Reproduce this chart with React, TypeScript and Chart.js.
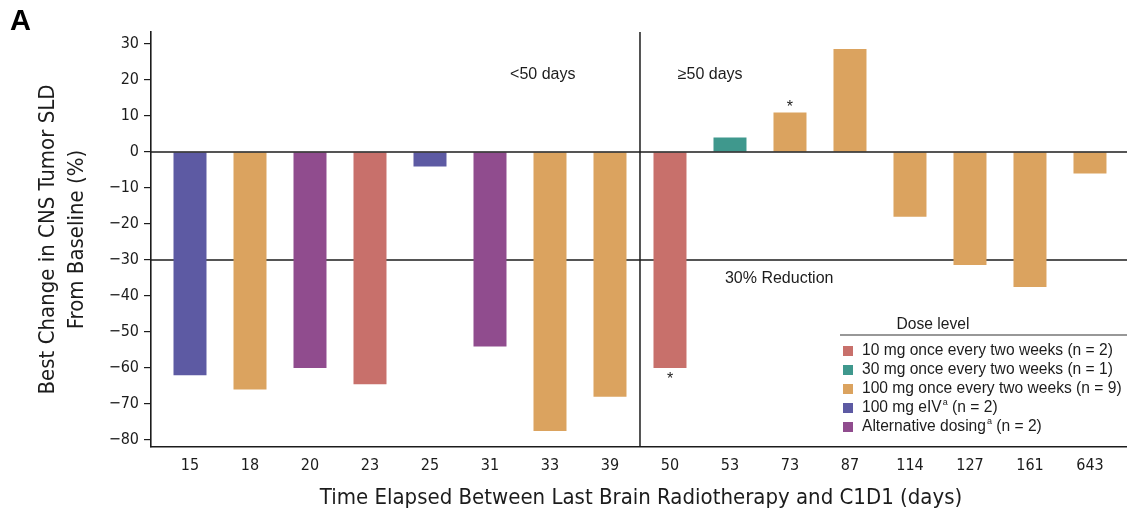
import React, { useEffect, useRef } from "react";
import { Chart, registerables } from "chart.js";

Chart.register(...registerables);

// ---- Data ----
const categories = ["15", "18", "20", "23", "25", "31", "33", "39", "50", "53", "73", "87", "114", "127", "161", "643"];
const changes = [-62, -66, -60, -64.5, -4, -54, -77.5, -68, -60, 4, 11, 28.6, -18, -31.4, -37.5, -6];
const doseGroup = [3, 2, 4, 0, 3, 4, 2, 2, 0, 1, 2, 2, 2, 2, 2, 2];
const doseNames = [
  "10 mg once every two weeks",
  "30 mg once every two weeks",
  "100 mg once every two weeks",
  "100 mg eIV",
  "Alternative dosing",
];
const doseSup = ["", "", "", "a", "a"];
const doseN = [2, 1, 9, 2, 2];
const doseColors = ["#c8706b", "#3f988d", "#dba35f", "#5d5aa3", "#904c8e"];
const yTicks = [30, 20, 10, 0, -10, -20, -30, -40, -50, -60, -70, -80];
const asteriskCats = ["73", "50"];
const thresholdValue = -30;
const groupSplitLabels = ["<50 days", "\u226550 days"];
const thresholdLabel = "30% Reduction";
const yTitleLines = ["Best Change in CNS Tumor SLD", "From Baseline (%)"];
const xTitle = "Time Elapsed Between Last Brain Radiotherapy and C1D1 (days)";
const legendTitle = "Dose level";
const panelLetter = "A";

const NARROW = '"Liberation Sans Narrow", "DejaVu Sans Condensed", "Arial Narrow", sans-serif';
const SANS = '"Liberation Sans", Arial, Helvetica, sans-serif';
const INK = "#1c1c1c";
const LEG_FONT = `15.6px ${SANS}`;

const overlayPlugin = {
  id: "overlay",
  beforeDatasetsDraw(chart: any) {
    const { ctx, chartArea, scales } = chart;
    const y = scales.y.getPixelForValue(thresholdValue);
    ctx.save();
    ctx.strokeStyle = INK;
    ctx.lineWidth = 1.3;
    ctx.beginPath();
    ctx.moveTo(chartArea.left, y);
    ctx.lineTo(chartArea.right, y);
    ctx.stroke();
    ctx.restore();
  },
  afterDatasetsDraw(chart: any) {
    const { ctx, chartArea, scales } = chart;
    const xs = scales.x;
    const ys = scales.y;
    ctx.save();
    // zero line
    const y0 = ys.getPixelForValue(0);
    ctx.strokeStyle = INK;
    ctx.lineWidth = 1.6;
    ctx.beginPath();
    ctx.moveTo(chartArea.left, y0);
    ctx.lineTo(chartArea.right, y0);
    ctx.stroke();
    // divider between <50 and >=50
    const splitIdx = categories.findIndex((c) => Number(c) >= 50);
    const xd = xs.getPixelForValue(splitIdx - 0.5);
    ctx.lineWidth = 1.5;
    ctx.beginPath();
    ctx.moveTo(xd, chartArea.top);
    ctx.lineTo(xd, chartArea.bottom);
    ctx.stroke();

    // annotations
    ctx.fillStyle = INK;
    ctx.font = `16px ${SANS}`;
    ctx.textBaseline = "middle";
    ctx.textAlign = "center";
    ctx.fillText(groupSplitLabels[0], xs.getPixelForValue(5.88), ys.getPixelForValue(21.4));
    ctx.fillText(groupSplitLabels[1], xs.getPixelForValue(8.67), ys.getPixelForValue(21.4));
    ctx.fillText(thresholdLabel, xs.getPixelForValue(9.82), ys.getPixelForValue(-35.2));

    // asterisks
    ctx.font = `16px ${SANS}`;
    asteriskCats.forEach((c) => {
      const i = categories.indexOf(c);
      const v = changes[i];
      const px = xs.getPixelForValue(i);
      const py = ys.getPixelForValue(v);
      ctx.fillText("*", px, v >= 0 ? py - 5 : py + 12);
    });

    // legend
    const lx = 840;
    const titleY = 325;
    ctx.font = LEG_FONT;
    ctx.textAlign = "center";
    ctx.fillText(legendTitle, 933, titleY);
    ctx.strokeStyle = "#333";
    ctx.lineWidth = 1.2;
    ctx.beginPath();
    ctx.moveTo(lx, 335);
    ctx.lineTo(chart.width, 335);
    ctx.stroke();
    ctx.textAlign = "left";
    doseNames.forEach((name, d) => {
      const ry = 351 + d * 19;
      ctx.fillStyle = doseColors[d];
      ctx.fillRect(843, ry - 5, 10, 10);
      ctx.fillStyle = INK;
      ctx.font = LEG_FONT;
      let tx = 862;
      ctx.fillText(name, tx, ry);
      tx += ctx.measureText(name).width;
      if (doseSup[d]) {
        ctx.font = `9px ${SANS}`;
        ctx.fillText(doseSup[d], tx + 1, ry - 5);
        tx += ctx.measureText(doseSup[d]).width + 1;
        ctx.font = LEG_FONT;
      }
      ctx.fillText(` (n = ${doseN[d]})`, tx, ry);
    });

    // panel letter
    ctx.font = `bold 29px ${SANS}`;
    ctx.textBaseline = "alphabetic";
    ctx.textAlign = "left";
    ctx.fillStyle = "#000";
    ctx.fillText(panelLetter, 10, 30);

    // y title
    ctx.fillStyle = INK;
    ctx.font = `22px ${NARROW}`;
    ctx.textAlign = "center";
    ctx.textBaseline = "middle";
    const cy = (chartArea.top + chartArea.bottom) / 2;
    [48, 77].forEach((x, k) => {
      ctx.save();
      ctx.translate(x, cy);
      ctx.rotate(-Math.PI / 2);
      ctx.fillText(yTitleLines[k], 0, 0);
      ctx.restore();
    });

    // x title
    ctx.font = `22px ${NARROW}`;
    ctx.fillText(xTitle, 641, 498);
    ctx.restore();
  },
};

export default function App() {
  const ref = useRef<HTMLCanvasElement | null>(null);
  useEffect(() => {
    if (!ref.current) return;
    const datasets = doseNames.map((name, d) => ({
      label: name,
      data: categories
        .map((c, i) => (doseGroup[i] === d ? { x: i, y: changes[i] } : null))
        .filter((p) => p !== null),
      backgroundColor: doseColors[d],
      borderWidth: 0,
      grouped: false,
      barPercentage: 0.55,
      categoryPercentage: 1,
    }));
    const chart = new Chart(ref.current, {
      type: "bar",
      data: { datasets: datasets as any },
      options: {
        responsive: false,
        maintainAspectRatio: false,
        animation: false,
        layout: { padding: { top: 32, left: 0, right: 0, bottom: 0 } },
        plugins: {
          legend: { display: false },
          tooltip: { enabled: false },
          title: { display: false },
        },
        scales: {
          x: {
            type: "linear",
            offset: false,
            min: -0.65,
            max: 15.617,
            afterBuildTicks: (ax: any) => {
              ax.ticks = categories.map((_, i) => ({ value: i }));
            },
            afterFit: (s: any) => {
              s.height = 71;
            },
            ticks: {
              callback: (v: any) => categories[Math.round(Number(v))] ?? "",
              font: { family: NARROW, size: 16 },
              color: INK,
              padding: 1,
              autoSkip: false,
              maxRotation: 0,
            },
            grid: { display: false },
            border: { display: true, color: INK, width: 1.6 },
          },
          y: {
            min: -81.94,
            max: 33.33,
            afterBuildTicks: (ax: any) => {
              ax.ticks = yTicks.map((v) => ({ value: v }));
            },
            afterFit: (s: any) => {
              s.width = 151;
            },
            ticks: {
              callback: (v: any) => String(v).replace("-", "\u2212"),
              font: { family: NARROW, size: 16 },
              color: INK,
              padding: 5,
            },
            grid: {
              display: true,
              drawOnChartArea: false,
              drawTicks: true,
              tickLength: 7,
              color: INK,
              lineWidth: 1.2,
            },
            border: { display: true, color: INK, width: 1.6 },
          },
        },
      },
      plugins: [overlayPlugin],
    });
    return () => chart.destroy();
  }, []);
  return (
    <div style={{ position: "absolute", left: 0, top: 0, width: 1127, height: 518, background: "#fff" }}>
      <canvas ref={ref} width={1127} height={518} style={{ display: "block" }} />
    </div>
  );
}
